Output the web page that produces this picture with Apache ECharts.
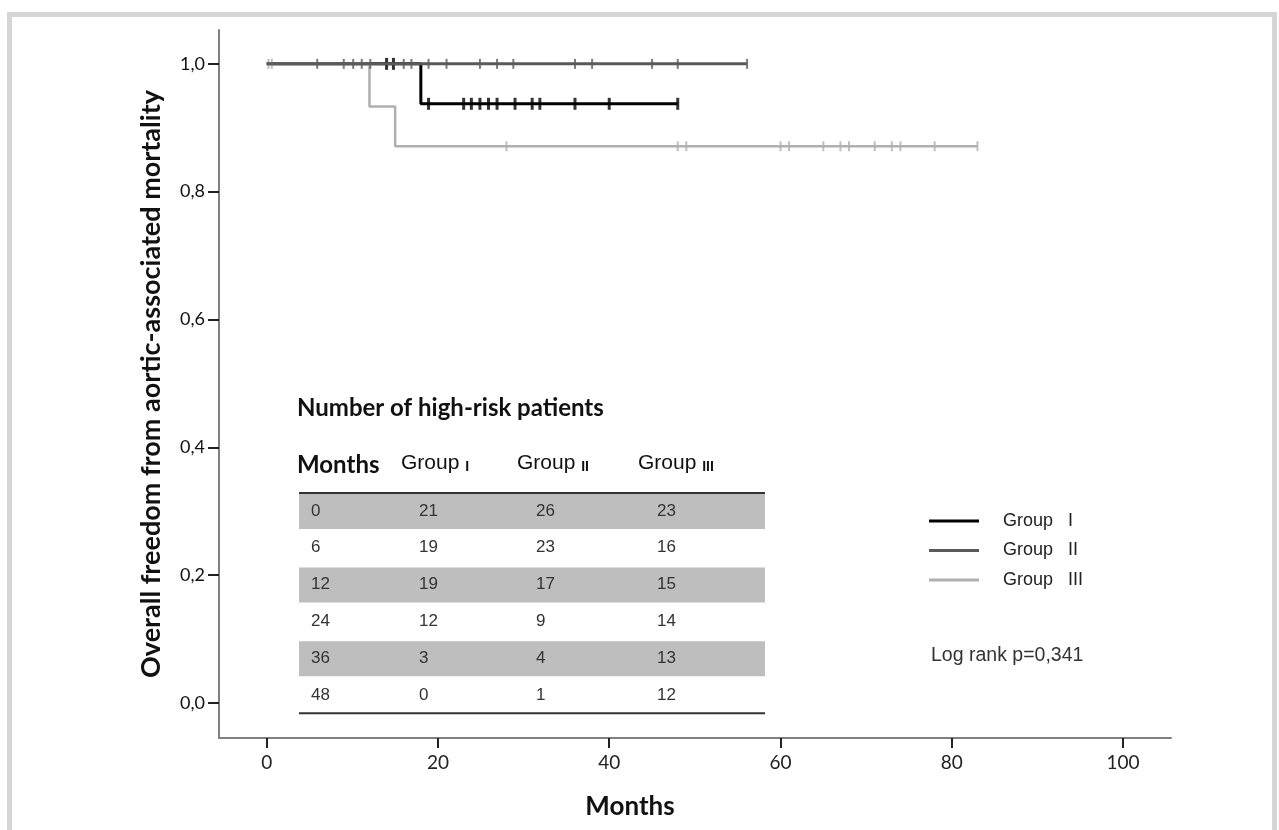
<!DOCTYPE html>
<html>
<head>
<meta charset="utf-8">
<script src="https://cdn.jsdelivr.net/npm/echarts@6/dist/echarts.min.js"></script>
<style>
  html, body { margin: 0; padding: 0; background: #fff; }
  #chart { width: 1279px; height: 830px; }
</style>
</head>
<body>
<div id="chart"></div>
<script>
// Kaplan-Meier step points: [month, survival] at start and after each event, last point = end of follow-up
const groupISteps = [[0, 1], [18, 0.9375], [48, 0.9375]];
const groupIISteps = [[0, 1], [56.1, 1]];
const groupIIISteps = [[0, 1], [12, 0.9333], [15, 0.8711], [83, 0.8711]];

// Censoring times (months)
const groupICensored = [14.0, 14.8, 18.9, 23.0, 23.9, 24.9, 25.9, 26.9, 29.0, 31.0, 31.9, 36.0, 40.0, 48.0];
const groupIICensored = [5.9, 9.0, 10.1, 11.1, 12.1, 16.0, 16.9, 18.9, 21.0, 24.9, 26.9, 28.8, 36.0, 38.0, 45.0, 48.0, 56.1];
const groupIIICensored = [0.2, 0.6, 28.0, 48.0, 49.0, 60.0, 61.0, 65.0, 67.0, 68.0, 71.0, 73.0, 74.0, 78.0, 83.0];

// Number at risk table
const riskMonths = [0, 6, 12, 24, 36, 48];
const riskGroupI = [21, 19, 19, 12, 3, 0];
const riskGroupII = [26, 23, 17, 9, 4, 1];
const riskGroupIII = [23, 16, 15, 14, 13, 12];

const xTicks = [0, 20, 40, 60, 80, 100];
const yTicks = [0, 0.2, 0.4, 0.6, 0.8, 1.0];

const groupNames = ['Group I', 'Group II', 'Group III'];
const groupNumerals = ['I', 'II', 'III'];
const logRankText = 'Log rank p=0,341';

// survival value of a step curve at time t
function survivalAt(steps, t) {
  let v = steps[0][1];
  for (const [x, s] of steps) { if (x <= t) v = s; }
  return v;
}
function censorPoints(steps, times) {
  return times.map(t => [t, survivalAt(steps, t)]);
}

const colors = ['#000000', '#5a5a5a', '#b0b0b0'];
const widths = [3, 3, 2.5];
const lineZ = [10, 14, 12];
const stepsAll = [groupISteps, groupIISteps, groupIIISteps];
const censAll = [groupICensored, groupIICensored, groupIIICensored];

const series = [];
for (let g = 0; g < 3; g++) {
  series.push({
    name: groupNames[g],
    type: 'line',
    step: 'end',
    data: stepsAll[g],
    symbol: 'none',
    z: lineZ[g],
    lineStyle: { color: colors[g], width: widths[g] },
    itemStyle: { color: colors[g] }
  });
  series.push({
    name: groupNames[g] + ' censored',
    type: 'scatter',
    data: censorPoints(stepsAll[g], censAll[g]),
    symbol: 'rect',
    symbolSize: g === 0 ? [3, 12] : [2, 10],
    z: lineZ[g] + 1,
    itemStyle: { color: colors[g] }
  });
}

// number-at-risk table, drawn as graphics
const tbl = { left: 299, right: 765, top: 493, pitch: 36.8 };
const colX = [311, 419, 536, 657];
const headX = [297, 401, 517, 638];
const graphics = [];

graphics.push({
  type: 'rect', silent: true,
  shape: { x: 9.5, y: 14.5, width: 1265, height: 900 },
  style: { fill: 'none', stroke: '#d6d6d6', lineWidth: 5 }
});

graphics.push({
  type: 'text', left: 297, top: 396,
  style: { text: 'Number of high-risk patients', font: 'bold 24px Lato', fill: '#111' }
});
graphics.push({
  type: 'text', left: headX[0], top: 453,
  style: { text: 'Months', font: 'bold 24px Lato', fill: '#111' }
});
for (let g = 0; g < 3; g++) {
  graphics.push({
    type: 'text', left: headX[g + 1], top: 453,
    style: {
      text: '{a|Group }{b|' + groupNumerals[g] + '}',
      rich: {
        a: { fontFamily: 'Liberation Sans', fontSize: 21, fill: '#111', verticalAlign: 'bottom', lineHeight: 26 },
        b: { fontFamily: 'Liberation Sans', fontSize: 14, fontWeight: 'bold', fill: '#111', verticalAlign: 'bottom', lineHeight: 21 }
      }
    }
  });
}
for (let r = 0; r < riskMonths.length; r++) {
  const rowTop = tbl.top + r * tbl.pitch;
  if (r % 2 === 0) {
    graphics.push({
      type: 'rect', silent: true, z: 1,
      shape: { x: tbl.left, y: rowTop + 1, width: tbl.right - tbl.left, height: 35 },
      style: { fill: '#bebebe' }
    });
  }
  const vals = [riskMonths[r], riskGroupI[r], riskGroupII[r], riskGroupIII[r]];
  vals.forEach((v, c) => {
    graphics.push({
      type: 'text', x: colX[c], y: rowTop + 18, z: 2,
      style: { text: String(v), font: '17px "Liberation Sans"', fill: '#333', verticalAlign: 'middle' }
    });
  });
}
graphics.push({
  type: 'line', z: 3, silent: true,
  shape: { x1: tbl.left, y1: tbl.top, x2: tbl.right, y2: tbl.top },
  style: { stroke: '#333', lineWidth: 2 }
});
graphics.push({
  type: 'line', z: 3, silent: true,
  shape: { x1: tbl.left, y1: tbl.top + 6 * tbl.pitch - 0.5, x2: tbl.right, y2: tbl.top + 6 * tbl.pitch - 0.5 },
  style: { stroke: '#333', lineWidth: 2 }
});
graphics.push({
  type: 'text', left: 931, top: 646,
  style: { text: logRankText, font: '19.5px "Liberation Sans"', fill: '#333' }
});

const chart = echarts.init(document.getElementById('chart'), null, { renderer: 'canvas' });
chart.setOption({
  animation: false,
  backgroundColor: '#ffffff',
  grid: { left: 219, top: 30, width: 952, height: 708, containLabel: false },
  xAxis: {
    type: 'value', min: -5.57, max: 105.6,
    name: 'Months', nameLocation: 'middle', nameGap: 56,
    nameTextStyle: { fontFamily: 'Lato', fontWeight: 'bold', fontSize: 26, color: '#111', padding: [0, 130, 0, 0] },
    axisLine: { show: true, onZero: false, lineStyle: { color: '#808080', width: 2 } },
    axisTick: { show: true, customValues: xTicks, length: 10, lineStyle: { color: '#222', width: 2 } },
    axisLabel: { customValues: xTicks, fontFamily: 'Lato', fontSize: 19, color: '#222', margin: 15 },
    splitLine: { show: false }
  },
  yAxis: {
    type: 'value', min: -0.055, max: 1.053,
    name: 'Overall freedom from aortic-associated mortality', nameLocation: 'middle', nameGap: 54, nameRotate: 90,
    nameTextStyle: { fontFamily: 'Lato', fontWeight: 'bold', fontSize: 27, color: '#111' },
    axisLine: { show: true, onZero: false, lineStyle: { color: '#808080', width: 2 } },
    axisTick: { show: true, customValues: yTicks, length: 11, lineStyle: { color: '#222', width: 2 } },
    axisLabel: {
      customValues: yTicks, fontFamily: 'Lato', fontSize: 18, color: '#111', margin: 14,
      formatter: v => v.toFixed(1).replace('.', ',')
    },
    splitLine: { show: false }
  },
  legend: {
    data: groupNames,
    orient: 'vertical', left: 929, top: 511, padding: 0,
    icon: 'rect', itemWidth: 50, itemHeight: 3, itemGap: 9.5,
    formatter: name => name.replace(' ', '   '),
    textStyle: { fontFamily: 'Liberation Sans', fontSize: 18, color: '#222', lineHeight: 20, padding: [0, 0, 0, 19] }
  },
  graphic: graphics,
  series: series
});
</script>
</body>
</html>
